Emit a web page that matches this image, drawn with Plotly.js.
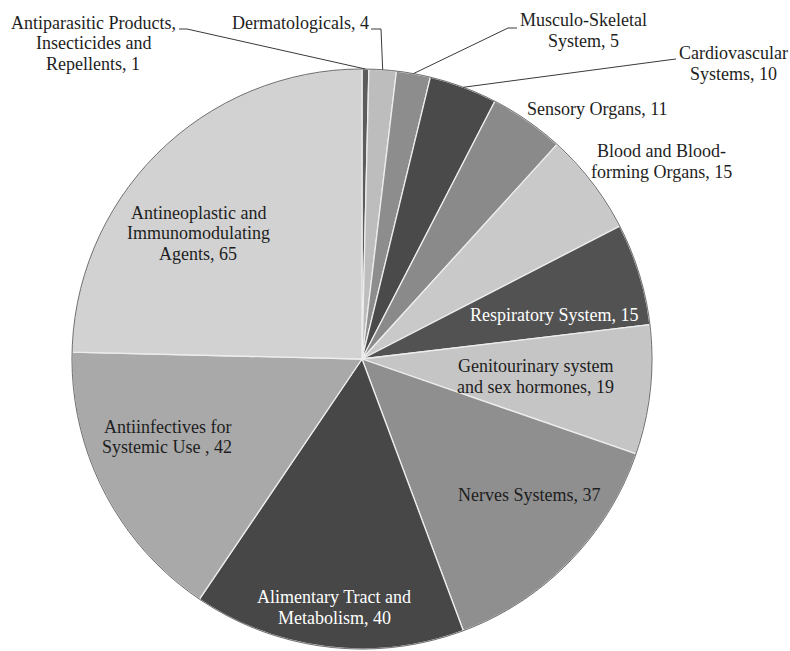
<!DOCTYPE html>
<html>
<head>
<meta charset="utf-8">
<script src="https://cdn.plot.ly/plotly-3.0.1.min.js"></script>
<style>
  html, body { margin: 0; padding: 0; background: #fff; }
  #chart { width: 790px; height: 651px; }
</style>
</head>
<body>
<div id="chart"></div>
<script>
// Drug counts per ATC therapeutic group (clockwise from 12 o'clock)
const categories = [
  "Antiparasitic Products,<br>Insecticides and<br>Repellents",
  "Dermatologicals",
  "Musculo-Skeletal<br>System",
  "Cardiovascular<br>Systems",
  "Sensory Organs",
  "Blood and Blood-<br>forming Organs",
  "Respiratory System",
  "Genitourinary system<br>and sex hormones",
  "Nerves Systems",
  "Alimentary Tract and<br>Metabolism",
  "Antiinfectives for<br>Systemic Use ",
  "Antineoplastic and<br>Immunomodulating<br>Agents"
];
const values = [1, 4, 5, 10, 11, 15, 15, 19, 37, 40, 42, 65];
const sliceColors = [
  "#5c5c5c", "#bdbdbd", "#8d8d8d", "#4a4a4a", "#8a8a8a", "#c9c9c9",
  "#525252", "#c5c5c5", "#8f8f8f", "#474747", "#a9a9a9", "#d2d2d2"
];

const W = 790, H = 651;
const dom = { x: [72 / W, 652 / W], y: [1 - 649 / H, 1 - 69 / H] };
const FONT = "Liberation Serif, 'Times New Roman', serif";
const FONT_SIZE = 18;
const LINE_GAP = 20.5;

// label placement (pixels): block centre, text colour, optional leader start + elbow
const placement = [
  { x: 93,  y: 43,  lead: [[179, 29], [187, 29]] },
  { x: 300, y: 23,  lead: [[371, 29], [381, 29]] },
  { x: 583, y: 30.5, lead: [[517, 28], [508, 28]] },
  { x: 733, y: 63.5, lead: [[676, 59], [668, 60]] },
  { x: 597, y: 109 },
  { x: 661, y: 161.5 },
  { x: 554, y: 315, color: "#ffffff" },
  { x: 535, y: 376.5 },
  { x: 529, y: 495 },
  { x: 334, y: 607.5, color: "#ffffff" },
  { x: 167, y: 437 },
  { x: 198, y: 233 }
];

const px2x = p => p / W;
const py2y = p => 1 - p / H;

// pie geometry, as plotly lays it out inside the domain
const cx = (dom.x[0] + dom.x[1]) / 2 * W;
const cy = (1 - (dom.y[0] + dom.y[1]) / 2) * H;
const R = Math.min((dom.x[1] - dom.x[0]) * W, (dom.y[1] - dom.y[0]) * H) / 2;
const total = values.reduce((a, b) => a + b, 0);

let cum = 0;
const midAngles = values.map(v => {
  const m = (cum + v / 2) / total * 2 * Math.PI;
  cum += v;
  return m;
});

// one annotation per text line so the line pitch can be set freely
const annotations = [];
categories.forEach((c, i) => {
  const lines = (c + ", " + values[i]).split("<br>");
  const p = placement[i];
  lines.forEach((ln, k) => {
    annotations.push({
      text: ln,
      x: px2x(p.x),
      y: py2y(p.y + (k - (lines.length - 1) / 2) * LINE_GAP),
      xref: "paper", yref: "paper",
      xanchor: "center", yanchor: "middle",
      showarrow: false,
      font: { family: FONT, size: FONT_SIZE, color: p.color || "#1e1e1e" }
    });
  });
});

const shapes = [];
placement.forEach((p, i) => {
  if (!p.lead) return;
  const ax = cx + R * Math.sin(midAngles[i]);
  const ay = cy - R * Math.cos(midAngles[i]);
  const pts = p.lead.concat([[ax, ay]]);
  const path = pts.map((q, k) => (k ? "L" : "M") + px2x(q[0]) + "," + py2y(q[1])).join(" ");
  shapes.push({
    type: "path", xref: "paper", yref: "paper", path: path,
    line: { color: "#3a3a3a", width: 1 }
  });
});

const pie = {
  type: "pie",
  labels: categories,
  values: values,
  sort: false,
  direction: "clockwise",
  rotation: 0,
  domain: dom,
  textinfo: "none",
  hoverinfo: "label+value",
  marker: { colors: sliceColors, line: { color: "#ededed", width: 1.3 } }
};

// thin darker rim around the whole pie
const rim = {
  type: "pie",
  labels: ["total"],
  values: [total],
  sort: false,
  domain: dom,
  textinfo: "none",
  hoverinfo: "skip",
  marker: { colors: ["rgba(0,0,0,0)"], line: { color: "#6e6e6e", width: 1 } }
};

Plotly.newPlot("chart", [pie, rim], {
  width: W, height: H,
  margin: { l: 0, r: 0, t: 0, b: 0 },
  showlegend: false,
  paper_bgcolor: "#ffffff",
  annotations: annotations,
  shapes: shapes
}, { staticPlot: true });
</script>
</body>
</html>
